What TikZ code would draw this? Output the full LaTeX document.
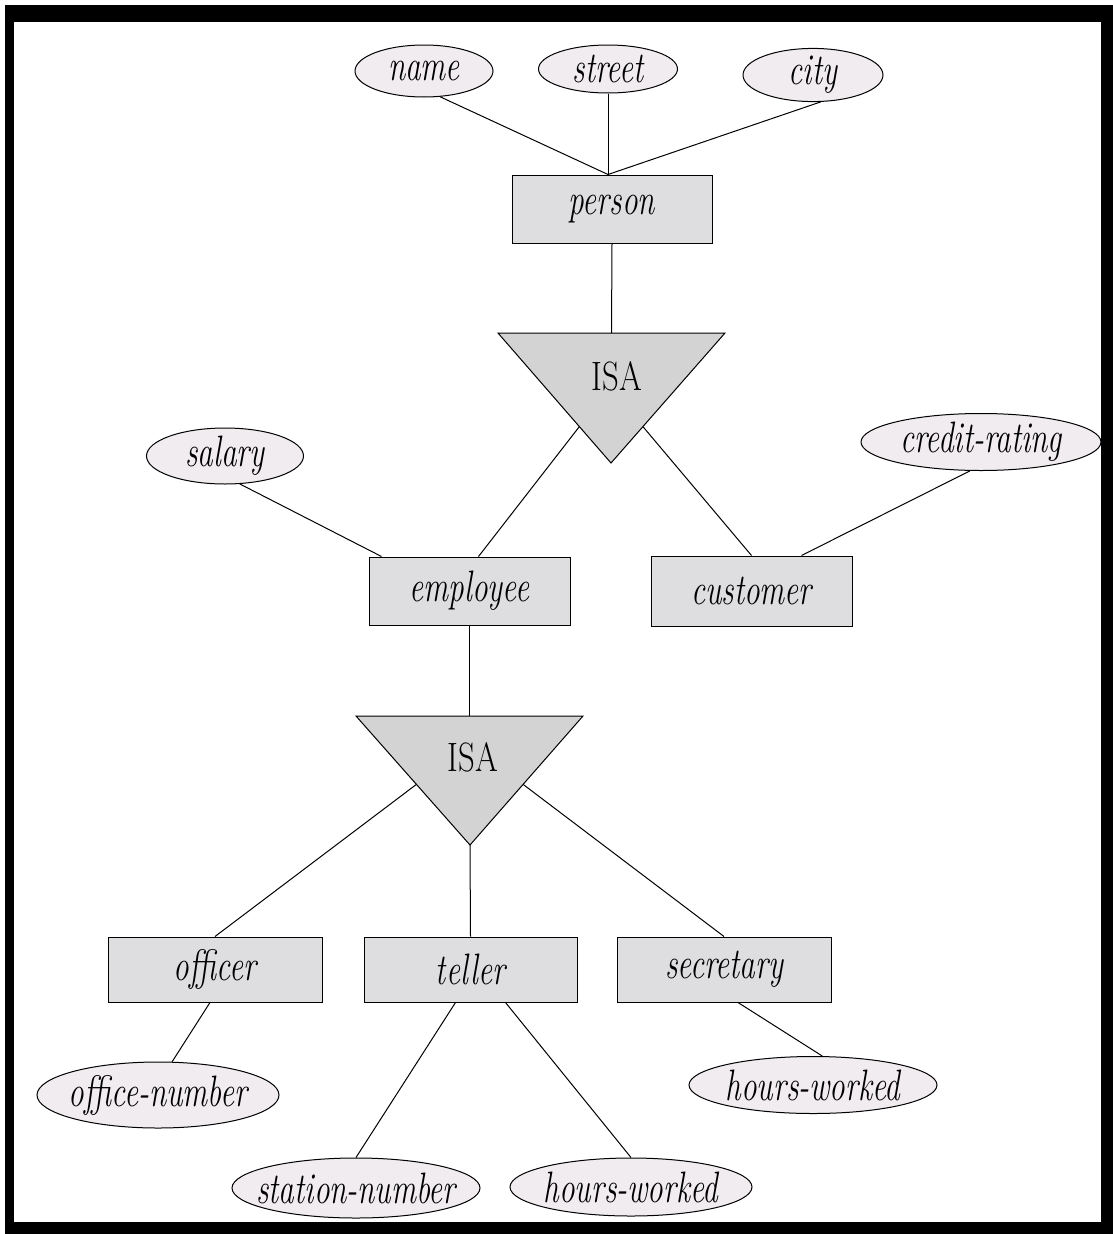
\documentclass[tikz,border=0pt]{standalone}
\usepackage{fontspec}
\usepackage{graphicx}
\usetikzlibrary{shapes.geometric,calc}

\definecolor{attrfill}{RGB}{240,236,240}
\definecolor{entfill}{RGB}{222,221,224}
\definecolor{isafill}{RGB}{211,211,211}

\newcommand{\ertxt}[1]{\makebox[0pt]{\scalebox{0.71}[1]{\itshape #1}}}
\newcommand{\isatxt}{\makebox[0pt]{\scalebox{0.8}[1]{ISA}}}

\tikzset{
    entity/.style={draw, fill=entfill, inner sep=0pt,
        font=\fontsize{44}{48}\selectfont},
    attr/.style={ellipse, draw, fill=attrfill, inner sep=0pt,
        font=\fontsize{44}{48}\selectfont},
    isa/.style={draw, fill=isafill, line join=miter},
    isalabel/.style={font=\fontsize{41}{44}\selectfont, inner sep=0pt}
}

\begin{document}
\begin{tikzpicture}[x=1pt, y=-1pt, line width=1pt]
\useasboundingbox (0,0) rectangle (1113,1234);
\fill[white] (0,0) rectangle (1113,1234);
\fill[black] (5,5) rectangle (1113,1234);
\fill[white] (14,22) rectangle (1101,1222);

% top level: person
\node[entity, minimum width=200pt, minimum height=68pt] (person) at (612,209) {\ertxt{person}};
\node[attr, minimum width=138pt, minimum height=52pt] (name) at (424,71) {\ertxt{name}};
\node[attr, minimum width=139pt, minimum height=48pt] (street) at (608,69) {\ertxt{street}};
\node[attr, minimum width=140pt, minimum height=50pt] (city) at (813,75) {\ertxt{city}};

\draw (name.-58) -- ([xshift=-4pt]person.north);
\draw (street.south) -- ([xshift=-4pt]person.north);
\draw (city.-74) -- ([xshift=-4pt]person.north);

% first ISA
\coordinate (isaupl) at (498,333);
\coordinate (isaupr) at (725,333);
\coordinate (isaupb) at (611,463);
\draw[isa] (isaupl) -- (isaupr) -- (isaupb) -- cycle;
\node[isalabel] (isaup) at (617,376) {\isatxt};
\draw (person.south) -- ($(isaupl)!0.5!(isaupr)$);

% employee / customer
\node[entity, minimum width=201pt, minimum height=68pt] (employee) at (469.5,591) {\ertxt{employee}};
\node[entity, minimum width=201pt, minimum height=70pt] (customer) at (751.5,591) {\ertxt{customer}};
\node[attr, minimum width=157pt, minimum height=56pt] (salary) at (225,456) {\ertxt{salary}};
\node[attr, minimum width=240pt, minimum height=57pt] (credit) at (981,442) {\ertxt{credit-rating}};

\draw ($(isaupl)!0.72!(isaupb)$) -- ([xshift=9pt]employee.north);
\draw ($(isaupr)!0.72!(isaupb)$) -- (customer.north);
\draw (salary.-62) -- ([xshift=13pt]employee.north west);
\draw (credit.-111) -- ([xshift=50pt]customer.north);

% second ISA
\coordinate (isalowl) at (356,716);
\coordinate (isalowr) at (583,716);
\coordinate (isalowb) at (470,845);
\draw[isa] (isalowl) -- (isalowr) -- (isalowb) -- cycle;
\node[isalabel] (isalow) at (473,757) {\isatxt};
\draw (employee.south) -- ($(isalowl)!0.5!(isalowr)$);

% officer / teller / secretary
\node[entity, minimum width=214pt, minimum height=65pt] (officer) at (215,969.5) {\ertxt{officer}};
\node[entity, minimum width=213pt, minimum height=65pt] (teller) at (470.5,969.5) {\ertxt{teller}};
\node[entity, minimum width=214pt, minimum height=65pt] (secretary) at (724,969.5) {\ertxt{secretary}};

\draw ($(isalowl)!0.53!(isalowb)$) -- (officer.north);
\draw (isalowb) -- (teller.north);
\draw ($(isalowr)!0.53!(isalowb)$) -- (secretary.north);

\node[attr, minimum width=242pt, minimum height=66pt] (offnum) at (158,1095) {\ertxt{office-number}};
\node[attr, minimum width=248pt, minimum height=57pt] (hoursw) at (813,1085) {\ertxt{hours-worked}};
\node[attr, minimum width=248pt, minimum height=60pt] (stationnum) at (356,1188) {\ertxt{station-number}};
\node[attr, minimum width=242pt, minimum height=58pt] (hourst) at (631,1187) {\ertxt{hours-worked}};

\draw ([xshift=-5pt]officer.south) -- (offnum.67);
\draw ([xshift=-15pt]teller.south) -- (stationnum.north);
\draw ([xshift=35pt]teller.south) -- (hourst.north);
\draw ([xshift=14pt]secretary.south) -- (hoursw.72);
\end{tikzpicture}
\end{document}
